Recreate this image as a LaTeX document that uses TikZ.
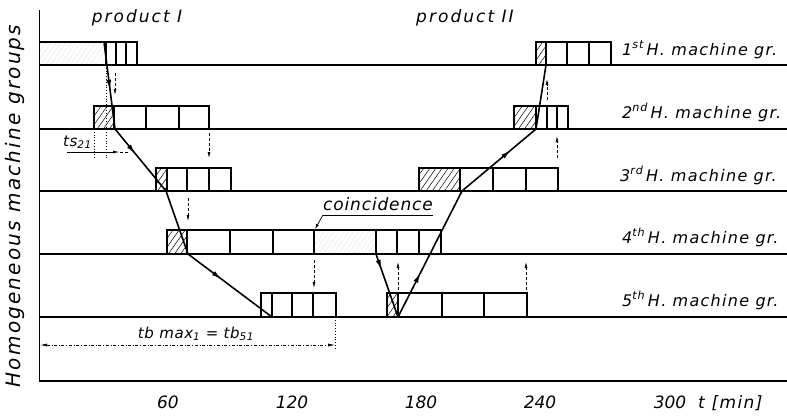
\documentclass[tikz,border=0pt]{standalone}
\usepackage{fontspec}
\newfontfamily\din{DejaVu Sans}
\usetikzlibrary{arrows.meta, patterns.meta, decorations.markings}

\tikzset{
  base/.style={line width=1.5pt},
  box/.style={draw, line width=1.6pt},
  hatch/.style={pattern={Lines[angle=55,distance=5pt,line width=.5pt]}},
  light/.style={pattern={Lines[angle=55,distance=4pt,line width=.4pt]}, pattern color=black!40},
  flow/.style={line width=1.6pt},
  midarr/.style={postaction={decorate}, decoration={markings,
      mark=at position #1 with {\arrow{Latex[length=10pt,width=5pt]}}}},
  trans/.style={densely dashed, line width=.7pt, -{Latex[length=6pt,width=3pt]}},
  grlab/.style={anchor=base west, inner sep=0pt,
      font=\din\itshape\addfontfeature{LetterSpace=8}\fontsize{16}{16}\selectfont},
  prod/.style={anchor=base, inner sep=0pt,
      font=\din\itshape\addfontfeature{LetterSpace=12}\fontsize{17}{17}\selectfont},
  coin/.style={anchor=base, inner sep=0pt,
      font=\din\itshape\addfontfeature{LetterSpace=5}\fontsize{17}{17}\selectfont},
  num/.style={anchor=base, inner sep=0pt,
      font=\din\itshape\fontsize{17}{17}\selectfont},
  small/.style={anchor=base west, inner sep=0pt,
      font=\din\itshape\addfontfeature{LetterSpace=4}\fontsize{15}{15}\selectfont},
  ylab/.style={rotate=90, inner sep=0pt,
      font=\din\itshape\addfontfeature{LetterSpace=11}\fontsize{20}{20}\selectfont}
}

\begin{document}
\begin{tikzpicture}[x=1pt, y=-1pt]
  \useasboundingbox (0,0) rectangle (787,416);

  % hatched parts
  \fill[light] (39,42)   rectangle (106,65);
  \fill[hatch] (536,42)  rectangle (546,65);
  \fill[hatch] (94,106)  rectangle (114,129);
  \fill[hatch] (514,106) rectangle (536,129);
  \fill[hatch] (156,168) rectangle (167,191);
  \fill[hatch] (419,168) rectangle (460,191);
  \fill[hatch] (167,230) rectangle (187,254);
  \fill[light] (314,230) rectangle (376,254);
  \fill[hatch] (387,293) rectangle (398,317);

  % operation boxes
  \draw[box] (39,42) -- (137,42) -- (137,65);
  \foreach \x in {106,116,126} \draw[box] (\x,42) -- (\x,65);
  \draw[box] (536,42) rectangle (611,65);
  \foreach \x in {546,567,589} \draw[box] (\x,42) -- (\x,65);
  \draw[box] (94,106) rectangle (209,129);
  \foreach \x in {114,146,179} \draw[box] (\x,106) -- (\x,129);
  \draw[box] (514,106) rectangle (568,129);
  \foreach \x in {536,547,557} \draw[box] (\x,106) -- (\x,129);
  \draw[box] (156,168) rectangle (231,191);
  \foreach \x in {167,187,209} \draw[box] (\x,168) -- (\x,191);
  \draw[box] (419,168) rectangle (558,191);
  \foreach \x in {460,493,526} \draw[box] (\x,168) -- (\x,191);
  \draw[box] (167,230) rectangle (441,254);
  \foreach \x in {187,230,273,314,376,397,419} \draw[box] (\x,230) -- (\x,254);
  \draw[box] (261,293) rectangle (336,317);
  \foreach \x in {272,292,313} \draw[box] (\x,293) -- (\x,317);
  \draw[box] (387,293) rectangle (527,317);
  \foreach \x in {398,442,484} \draw[box] (\x,293) -- (\x,317);

  % axes and group lines
  \foreach \y in {65,129,191,254,317,381} \draw[base] (39,\y) -- (787,\y);
  \draw[line width=1pt] (39,10) -- (39,381);

  % product flows
  \coordinate (a1) at (104,42);
  \coordinate (a2) at (115,129);
  \coordinate (a3) at (166,191);
  \coordinate (a4) at (188,254);
  \coordinate (a5) at (272,317);
  \coordinate (b1) at (376,254);
  \coordinate (b2) at (398,317);
  \coordinate (b3) at (462,191);
  \coordinate (b4) at (536,129);
  \coordinate (b5) at (546,65);
  \draw[flow, midarr=.55] (a1) -- (a2);
  \draw[flow, midarr=.4]  (a2) -- (a3);
  \draw[flow]             (a3) -- (a4);
  \draw[flow, midarr=.4]  (a4) -- (a5);
  \draw[flow, midarr=.25] (b1) -- (b2);
  \draw[flow, midarr=.35] (b2) -- (b3);
  \draw[flow, midarr=.66] (b3) -- (b4);
  \draw[flow]             (b4) -- (b5);

  % transfer times
  \foreach \n/\x/\ya/\yb in {1/115/73/95, 2/209/133/158, 3/188/198/221,
      4/314/260/288, 5/398/290/262, 6/526/290/262, 7/557/158/136, 8/547/100/79} {
    \coordinate (d\n s) at (\x,\ya);
    \coordinate (d\n e) at (\x,\yb);
    \draw[trans] (d\n s) -- (d\n e);
  }

  % ts21
  \coordinate (s1) at (67,152);
  \coordinate (s2) at (120,152);
  \coordinate (s3) at (128,152);
  \draw[dotted, line width=.8pt] (106,65) -- (106,158);
  \draw[dotted, line width=.8pt] (94,129) -- (94,158);
  \draw[line width=1pt, -{Latex[length=7pt,width=3pt]}] (s1) -- (s2);
  \draw[densely dashed, line width=.6pt] (s2) -- (s3);
  \node[small] (ts) at (63,146) {ts\textsubscript{21}};

  % coincidence
  \node[coin] (co) at (378,210) {coincidence};
  \coordinate (u1) at (323,215);
  \coordinate (u2) at (433,215);
  \coordinate (u3) at (315,229);
  \draw[line width=.7pt] (u1) -- (u2);
  \draw[line width=.7pt, -{Latex[length=5pt,width=3pt]}] (u1) -- (u3);

  % tb max
  \coordinate (m1) at (40,345);
  \coordinate (m2) at (335,345);
  \draw[dotted, line width=.8pt] (335,317) -- (335,349);
  \draw[dash dot, line width=.7pt,
        {Latex[length=7pt,width=3pt]}-{Latex[length=7pt,width=3pt]}] (m1) -- (m2);
  \node[small, anchor=base] (tb) at (196,338) {tb max\textsubscript{1} = tb\textsubscript{51}};

  % labels
  \node[prod] (p1) at (137,22) {product I};
  \node[prod] (p2) at (465,22) {product II};
  \node[ylab] (yl) at (15,206) {Homogeneous machine groups};
  \node[grlab] (g1) at (622,55)  {1\textsuperscript{st}\,H. machine gr.};
  \node[grlab] (g2) at (622,118) {2\textsuperscript{nd}\,H. machine gr.};
  \node[grlab] (g3) at (620,181) {3\textsuperscript{rd}\,H. machine gr.};
  \node[grlab] (g4) at (622,243) {4\textsuperscript{th}\,H. machine gr.};
  \node[grlab] (g5) at (622,306) {5\textsuperscript{th}\,H. machine gr.};
  \foreach \x/\t in {168/60, 292/120, 421/180, 540/240, 670/300}
    \node[num] (n\t) at (\x,408) {\t};
  \node[num, anchor=base west, font=\din\itshape\addfontfeature{LetterSpace=8}\fontsize{17}{17}\selectfont] (tm) at (698,408) {t [min]};
\end{tikzpicture}
\end{document}
